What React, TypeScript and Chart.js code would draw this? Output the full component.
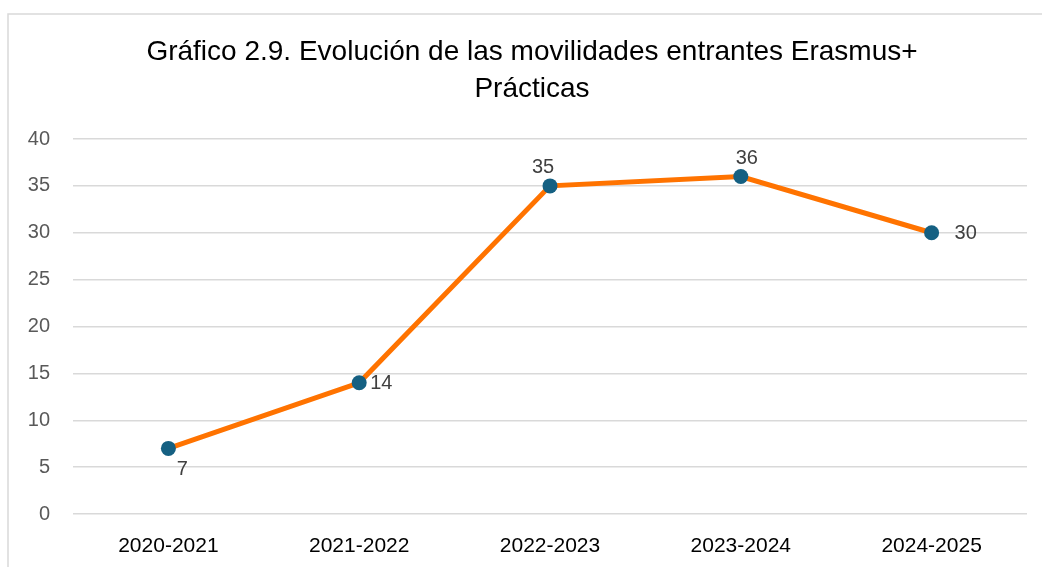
import React, { useEffect, useRef } from "react";
import { Chart, registerables } from "chart.js";

Chart.register(...registerables);

const categories = ["2020-2021", "2021-2022", "2022-2023", "2023-2024", "2024-2025"];
const values = [7, 14, 35, 36, 30];
const labelPositions = ["below", "right", "above", "above", "right"];
const titleLines = ["Gráfico 2.9. Evolución de las movilidades entrantes Erasmus+", "Prácticas"];
const yTicks = [0, 5, 10, 15, 20, 25, 30, 35, 40];

const FONT = "'Liberation Sans', Arial, sans-serif";

export default function App() {
  const ref = useRef<HTMLCanvasElement | null>(null);
  useEffect(() => {
    if (!ref.current) return;
    const framePlugin = {
      id: "frameTitle",
      beforeDraw(chart: any) {
        const ctx = chart.ctx;
        ctx.save();
        ctx.fillStyle = "#ffffff";
        ctx.fillRect(0, 0, chart.width, chart.height);
        ctx.strokeStyle = "#d9d9d9";
        ctx.lineWidth = 1.5;
        ctx.beginPath();
        ctx.moveTo(8, chart.height);
        ctx.lineTo(8, 14);
        ctx.lineTo(chart.width, 14);
        ctx.stroke();
        ctx.fillStyle = "#000000";
        ctx.font = `28px ${FONT}`;
        ctx.textAlign = "center";
        ctx.textBaseline = "middle";
        ctx.fillText(titleLines[0], 532, 52);
        ctx.fillText(titleLines[1], 532, 89);
        ctx.restore();
      },
      afterDatasetsDraw(chart: any) {
        const ctx = chart.ctx;
        const meta = chart.getDatasetMeta(0);
        ctx.save();
        ctx.fillStyle = "#404040";
        ctx.font = `20px ${FONT}`;
        ctx.textBaseline = "middle";
        meta.data.forEach((pt: any, i: number) => {
          const pos = labelPositions[i];
          const txt = String(values[i]);
          if (pos === "below") {
            ctx.textAlign = "center";
            ctx.fillText(txt, pt.x + 14, pt.y + 21);
          } else if (pos === "above") {
            ctx.textAlign = "center";
            ctx.fillText(txt, pt.x + (i === 2 ? -7 : 6), pt.y - 18);
          } else {
            ctx.textAlign = "left";
            ctx.fillText(txt, pt.x + (i === 4 ? 23 : 11), pt.y + 1);
          }
        });
        ctx.restore();
      },
    };
    const chart = new Chart(ref.current, {
      type: "line",
      data: {
        labels: categories,
        datasets: [
          {
            data: values,
            borderColor: "#ff7300",
            borderWidth: 5,
            pointBackgroundColor: "#156082",
            pointBorderColor: "#156082",
            pointRadius: 7.5,
            pointBorderWidth: 0,
            tension: 0,
          },
        ],
      },
      options: {
        animation: false,
        responsive: false,
        layout: { padding: { top: 139, right: 15, left: 0, bottom: 0 } },
        plugins: { legend: { display: false }, title: { display: false }, tooltip: { enabled: false } },
        scales: {
          x: {
            offset: true,
            grid: { display: false, drawTicks: false },
            border: { display: false },
            ticks: { color: "#000000", font: { family: FONT, size: 21 }, padding: 20, maxRotation: 0 },
            afterFit(scale: any) {
              scale.height = 53;
            },
          },
          y: {
            min: 0,
            max: 40,
            afterBuildTicks(scale: any) {
              scale.ticks = yTicks.map((v) => ({ value: v }));
            },
            grid: { color: "#d9d9d9", lineWidth: 1.5, drawTicks: false },
            border: { display: false },
            ticks: { color: "#595959", font: { family: FONT, size: 20 }, padding: 23 },
            afterFit(scale: any) {
              scale.width = 73;
            },
          },
        },
      },
      plugins: [framePlugin],
    });
    return () => chart.destroy();
  }, []);
  return (
    <div style={{ position: "absolute", left: 0, top: 0, width: 1042, height: 567 }}>
      <canvas ref={ref} width={1042} height={567} />
    </div>
  );
}
